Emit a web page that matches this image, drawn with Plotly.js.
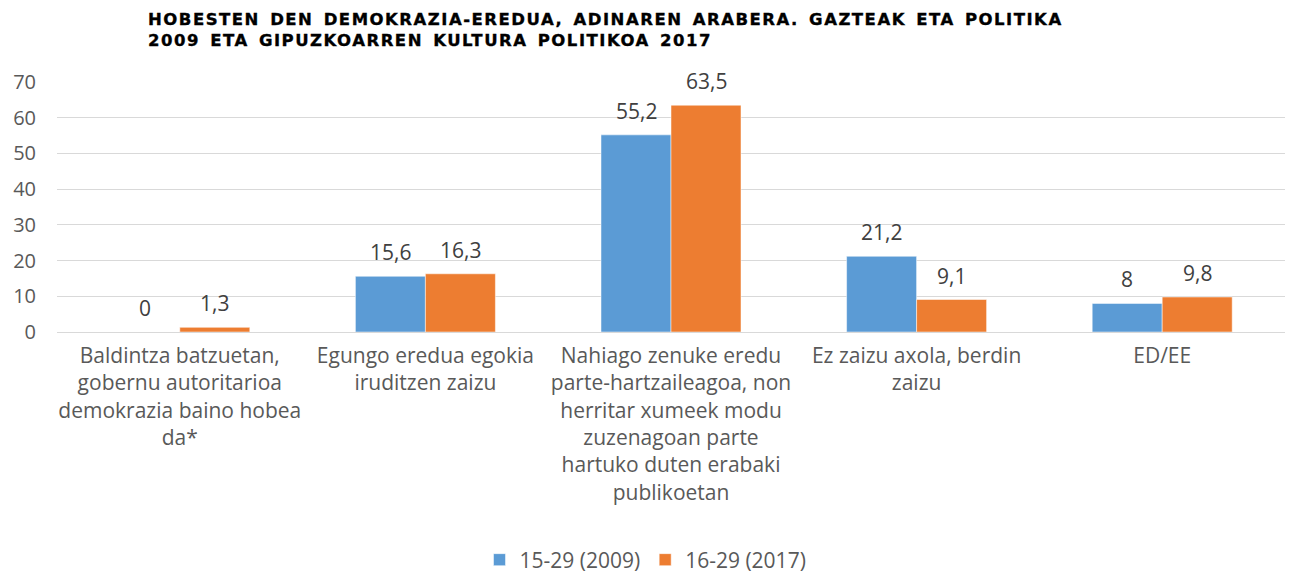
<!DOCTYPE html>
<html><head><meta charset="utf-8">
<script src="https://cdn.plot.ly/plotly-3.0.1.min.js"></script>
<style>html,body{margin:0;padding:0;background:#fff}#chart{width:1291px;height:575px}
.gtitle{letter-spacing:1.5px;word-spacing:3px;stroke:#000;stroke-width:0.35px}</style>
</head><body><div id="chart"></div>
<script>
const categories = [
  "Baldintza batzuetan,<br>gobernu autoritarioa<br>demokrazia baino hobea<br>da*",
  "Egungo eredua egokia<br>iruditzen zaizu",
  "Nahiago zenuke eredu<br>parte-hartzaileagoa, non<br>herritar xumeek modu<br>zuzenagoan parte<br>hartuko duten erabaki<br>publikoetan",
  "Ez zaizu axola, berdin<br>zaizu",
  "ED/EE"
];
const series2009 = [0, 15.6, 55.2, 21.2, 8];
const series2017 = [1.3, 16.3, 63.5, 9.1, 9.8];
const seriesNames = ["15-29 (2009)", "16-29 (2017)"];
const colors = ["#5B9BD5", "#ED7D31"];
const yTicks = [0, 10, 20, 30, 40, 50, 60, 70];

const fmt = v => String(v).replace('.', ',');
const FONT = "Open Sans, Noto Sans, sans-serif";

const traces = [series2009, series2017].map((vals, i) => ({
  type: 'bar', x: categories, y: vals, name: seriesNames[i],
  marker: {color: colors[i], line: {color: '#fff', width: 0.5}},
  hoverinfo: 'skip'
}));

const annotations = [];
[series2009, series2017].forEach((vals, i) => {
  vals.forEach((v, j) => {
    annotations.push({
      x: categories[j], y: v, xref: 'x', yref: 'y',
      text: fmt(v), showarrow: false,
      xshift: i === 0 ? -35 : 35, yshift: 24,
      font: {family: FONT, size: 21, color: '#404040'}
    });
  });
});

const layout = {
  width: 1291, height: 575,
  margin: {l: 57, r: 6, t: 82, b: 243},
  paper_bgcolor: '#fff', plot_bgcolor: '#fff',
  barmode: 'group', bargap: 0.43, bargroupgap: 0,
  title: {
    text: "HOBESTEN DEN DEMOKRAZIA-EREDUA, ADINAREN ARABERA. GAZTEAK ETA POLITIKA<br>2009 ETA GIPUZKOARREN KULTURA POLITIKOA 2017",
    x: 148/1291, xanchor: 'left', xref: 'container',
    y: 1 - 25/575, yanchor: 'auto', yref: 'container',
    font: {family: "DejaVu Sans, Verdana, sans-serif", size: 16.5, color: '#000', weight: 'bold'}
  },
  xaxis: {
    showgrid: false, showline: false, zeroline: false, ticks: '',
    tickfont: {family: FONT, size: 21, color: '#595959'},
    tickangle: 0, automargin: false, ticklabelstandoff: 9
  },
  yaxis: {
    range: [0, 70], tickvals: yTicks, ticktext: yTicks.map(String),
    showgrid: true, gridcolor: '#D9D9D9', gridwidth: 1,
    zeroline: true, zerolinecolor: '#D9D9D9', zerolinewidth: 1,
    showline: false, ticks: '', ticklabelstandoff: 20,
    tickfont: {family: FONT, size: 20, color: '#595959'},
    automargin: false
  },
  legend: {
    orientation: 'h', x: 0.5, xanchor: 'center', xref: 'container',
    y: 15/575, yanchor: 'middle', yref: 'container',
    font: {family: FONT, size: 21, color: '#595959'},
    itemwidth: 30, traceorder: 'normal'
  },
  annotations: annotations,
  separators: ',.'
};

Plotly.newPlot('chart', traces, layout, {staticPlot: true, displayModeBar: false});
</script></body></html>
